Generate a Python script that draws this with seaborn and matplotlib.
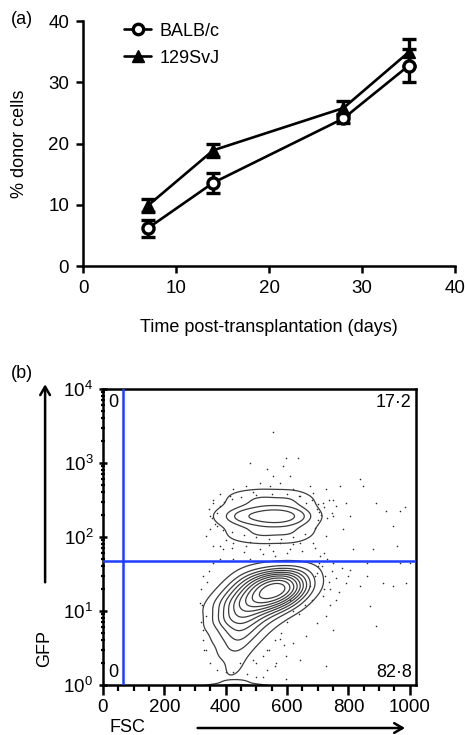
import numpy as np
import pandas as pd
import matplotlib
matplotlib.use("Agg")
import matplotlib.pyplot as plt
import seaborn as sns
from matplotlib.lines import Line2D
from matplotlib.patches import FancyArrowPatch
from matplotlib.ticker import MultipleLocator, LogLocator, NullFormatter

sns.set_style("ticks")
plt.rcParams["font.family"] = ["Liberation Sans", "DejaVu Sans"]
plt.rcParams["mathtext.fontset"] = "custom"
plt.rcParams["mathtext.rm"] = "Liberation Sans"
for key in ["text.color", "axes.labelcolor", "xtick.color", "ytick.color",
            "axes.edgecolor"]:
    plt.rcParams[key] = "black"

# ---- panel (a): % donor cells over time ----
days = [7, 14, 28, 35]
balb_mean = [6.2, 13.6, 24.1, 32.7]
balb_err = [1.4, 1.6, 0.8, 2.7]
svj_mean = [9.9, 18.9, 25.8, 34.9]
svj_err = [1.1, 1.1, 1.2, 2.2]

# ---- panel (b): flow cytometry, FSC vs GFP ----
# GFP- population, binned events (FSC, GFP, count)
low_fsc = [440, 480, 520, 560, 600, 640, 680,
           400, 440, 480, 520, 560, 600, 640, 680,
           360, 400, 440, 480, 520, 560, 600, 640,
           370, 410, 450, 490, 530, 570,
           390, 430, 470, 510,
           410, 440, 470, 430, 425]
low_gfp = [28, 28, 28, 28, 28, 28, 28,
           19, 19, 19, 19, 19, 19, 19, 19,
           12.6, 12.6, 12.6, 12.6, 12.6, 12.6, 12.6, 12.6,
           7.9, 7.9, 7.9, 7.9, 7.9, 7.9,
           5.0, 5.0, 5.0, 5.0,
           3.2, 3.2, 3.2, 2.0, 1.4]
low_count = [1.5, 3, 4.5, 5.5, 5, 3, 1,
             1.5, 3, 5, 8, 10, 8, 4.5, 1.5,
             1.5, 3, 5, 6, 6, 5, 3.5, 1.5,
             2, 4, 4.5, 3.5, 2, 1,
             1.5, 3, 2.5, 1.2,
             1.4, 1.7, 0.8, 1.2, 0.9]

# GFP+ population
up_fsc = [420, 470, 520, 565, 610, 650,
          450, 520, 600, 650,
          450, 520, 600, 650]
up_gfp = [190, 190, 190, 190, 190, 190,
          320, 320, 320, 300,
          112, 112, 112, 120]
up_count = [1.5, 3, 3.5, 5, 3, 1.5,
            1.0, 1.8, 1.6, 0.6,
            1.0, 1.8, 1.6, 0.6]

# debris at the bottom edge
base_fsc = [360, 410, 460, 510, 430, 430]
base_gfp = [0.9, 0.9, 0.9, 0.9, 1.1, 0.78]
base_count = [1, 1.6, 1.6, 1, 0.8, 0.8]

# outlier events outside the contours
dot_fsc = [478, 533, 598, 636, 587, 554, 511, 467, 424, 380, 359, 348, 413,
           489, 544, 576, 620, 641, 663, 696, 717, 750, 793, 837, 848, 891,
           924, 967, 984, 946, 772, 728, 674, 609, 750, 804, 783, 728, 685,
           641, 609, 576, 554, 511, 467, 424, 391, 359, 337, 348, 880, 957,
           815, 707, 750, 804, 859, 913, 946, 989, 837, 793, 739, 717, 728,
           870, 891, 750, 696, 663, 620, 598, 565, 533, 500, 489, 533, 576,
           641, 728, 598, 446, 424, 370, 348, 326, 337, 315, 326, 359, 380,
           424, 478, 337, 402, 1000, 967, 859, 696, 674, 555, 700, 720, 690,
           365, 372, 380, 395, 420, 450, 500, 550, 600, 640, 680, 700, 705,
           700, 690, 660, 620, 580, 540, 500, 460, 420, 390, 370, 710, 720,
           730, 745, 760, 735, 685, 355, 345, 360,
           380, 420, 460, 520, 560, 600, 650, 690, 400, 480, 540, 620,
           715, 725, 735, 745, 760, 770, 760, 740, 720, 705, 730, 780, 800,
           318, 322, 320, 325, 330, 340, 345,
           620, 640, 600, 580, 560, 540, 520, 500, 660, 680, 610, 590, 470,
           520, 560]
dot_gfp = [1000, 820, 1180, 1180, 910, 670, 540, 490, 440, 380, 290, 190, 360,
           400, 490, 540, 440, 360, 290, 235, 290, 320, 290, 600, 490, 290,
           225, 225, 250, 140, 490, 440, 490, 670, 190, 190, 126, 103, 84,
           84, 68, 84, 65, 68, 76, 84, 68, 76, 103, 126, 68, 76, 68, 55, 45,
           36, 30, 24, 22, 24, 22, 24, 20, 16, 8.5, 11.7, 6.3, 5.6, 6.9, 4.6,
           3.7, 2.5, 2.0, 1.6, 1.3, 2.2, 3.0, 4.2, 2.2, 1.8, 1.2, 2.0, 1.5,
           1.6, 2.0, 5.6, 8.5, 13, 30, 45, 50, 50, 50, 3.0, 1.5, 45, 45, 45,
           33, 22, 2600, 40, 60, 30,
           150, 210, 260, 300, 330, 350, 370, 380, 375, 360, 320, 280, 220,
           170, 130, 110, 100, 95, 95, 100, 105, 115, 125, 140, 200, 250,
           180, 210, 260, 320, 390, 180, 240, 320,
           75, 70, 62, 58, 55, 60, 64, 70, 90, 85, 78, 80,
           40, 30, 25, 35, 28, 18, 14, 12, 20, 45, 50, 38, 30,
           20, 12, 7, 4, 3, 25, 35,
           10, 9, 7, 5, 4, 3, 2.5, 2, 12, 14, 14, 3.5, 1.4,
           1.3, 1.8]

fsc_gate = 65
gfp_gate = 48

fig = plt.figure(figsize=(4.65, 7.35), dpi=100)

# ---------------- (a) ----------------
ax1 = fig.add_axes([0.1785, 0.638, 0.80, 0.3333])
df_a = pd.DataFrame({
    "day": days * 2,
    "pct": balb_mean + svj_mean,
    "strain": ["BALB/c"] * 4 + ["129SvJ"] * 4,
})
sns.lineplot(data=df_a, x="day", y="pct", hue="strain",
             palette={"BALB/c": "black", "129SvJ": "black"},
             linewidth=1.9, legend=False, ax=ax1, zorder=2)
ax1.errorbar(days, balb_mean, yerr=balb_err, fmt="o", ms=8, mfc="white",
             mec="black", mew=2.4, ecolor="black", elinewidth=2.4,
             capsize=5, capthick=2.4, zorder=3)
ax1.errorbar(days, svj_mean, yerr=svj_err, fmt="^", ms=9, mfc="black",
             mec="black", ecolor="black", elinewidth=2.4, capsize=5,
             capthick=2.4, zorder=3)
ax1.set_xlim(0, 40)
ax1.set_ylim(0, 40)
ax1.xaxis.set_major_locator(MultipleLocator(10))
ax1.yaxis.set_major_locator(MultipleLocator(10))
ax1.set_xlabel("Time post-transplantation (days)", fontsize=13)
ax1.set_ylabel("% donor cells", fontsize=13)
ax1.xaxis.set_label_coords(0.5, -0.249)
ax1.xaxis.label.set_va("center")
ax1.yaxis.set_label_coords(-0.170, 0.5)
ax1.yaxis.label.set_va("center")
ax1.tick_params(labelsize=13.5, width=1.8, length=5, pad=5)
for s in ["left", "bottom"]:
    ax1.spines[s].set_linewidth(1.8)
sns.despine(ax=ax1)
handles = [
    Line2D([], [], color="black", lw=1.9, marker="o", ms=7.5, mfc="white",
           mew=2.4),
    Line2D([], [], color="black", lw=1.9, marker="^", ms=8.5),
]
ax1.legend(handles, ["BALB/c", "129SvJ"], loc="upper left",
           bbox_to_anchor=(0.067, 1.06), frameon=False, fontsize=13,
           handlelength=1.5, labelspacing=0.55, handletextpad=0.45)
fig.text(0.047, 0.973, "(a)", fontsize=13, ha="center", va="center")

# ---------------- (b) ----------------
ax2 = fig.add_axes([0.2215, 0.068, 0.673, 0.403])

ax2.scatter(dot_fsc, dot_gfp, s=1.3, color="#2a2a2a", linewidths=0, zorder=2)

df_low = pd.DataFrame({"fsc": low_fsc, "gfp": low_gfp, "n": low_count})
df_up = pd.DataFrame({"fsc": up_fsc, "gfp": up_gfp, "n": up_count})
df_base = pd.DataFrame({"fsc": base_fsc, "gfp": base_gfp, "n": base_count})
contour_kw = dict(x="fsc", y="gfp", weights="n", log_scale=(False, True),
                  color="#3c3c3c", linewidths=0.9, ax=ax2)
sns.kdeplot(data=df_low, levels=11, thresh=0.04, bw_adjust=0.75, **contour_kw)
sns.kdeplot(data=df_up, levels=5, thresh=0.06, bw_adjust=0.9, **contour_kw)
sns.kdeplot(data=df_base, levels=4, thresh=0.15, bw_adjust=1.1, **contour_kw)

ax2.axvline(fsc_gate, color="#1f3dff", lw=1.8, zorder=4)
ax2.axhline(gfp_gate, color="#1f3dff", lw=1.8, zorder=4)

ax2.set_xlim(0, 1020)
ax2.set_yscale("log")
ax2.set_ylim(1, 1e4)
ax2.set_xlabel("")
ax2.set_ylabel("")
ax2.set_xticks([0, 200, 400, 600, 800, 1000])
ax2.xaxis.set_minor_locator(MultipleLocator(50))
ax2.yaxis.set_major_locator(LogLocator(base=10, numticks=10))
ax2.yaxis.set_minor_locator(LogLocator(base=10, subs=np.arange(2, 10),
                                       numticks=10))
ax2.yaxis.set_minor_formatter(NullFormatter())
ax2.tick_params(axis="x", which="major", labelsize=13.5, width=1.8,
                length=7, pad=3)
ax2.tick_params(axis="x", which="minor", width=1.6, length=4)
ax2.tick_params(axis="y", which="major", labelsize=13.5, width=1.8,
                length=6, direction="inout", pad=4)
ax2.tick_params(axis="y", which="minor", width=1.6, length=3.5,
                direction="inout")
for s in ax2.spines.values():
    s.set_linewidth(1.8)

ax2.text(0.016, 0.982, "0", transform=ax2.transAxes, fontsize=13,
         ha="left", va="top")
ax2.text(0.987, 0.982, "17\u00b72", transform=ax2.transAxes, fontsize=13,
         ha="right", va="top")
ax2.text(0.016, 0.012, "0", transform=ax2.transAxes, fontsize=13,
         ha="left", va="bottom")
ax2.text(0.987, 0.012, "82\u00b78", transform=ax2.transAxes, fontsize=13,
         ha="right", va="bottom")

fig.text(0.047, 0.4925, "(b)", fontsize=13, ha="center", va="center")
fig.text(0.097, 0.118, "GFP", fontsize=13, rotation=90, ha="center",
         va="center")
fig.text(0.273, 0.0105, "FSC", fontsize=13, ha="center", va="center")
fig.add_artist(FancyArrowPatch(
    (0.097, 0.204), (0.097, 0.481), transform=fig.transFigure,
    arrowstyle="->,head_length=6,head_width=3.5", lw=1.8, color="black"))
fig.add_artist(FancyArrowPatch(
    (0.419, 0.0095), (0.877, 0.0095), transform=fig.transFigure,
    arrowstyle="->,head_length=6,head_width=3.5", lw=1.8, color="black"))

fig.savefig("out.png", dpi=100)
